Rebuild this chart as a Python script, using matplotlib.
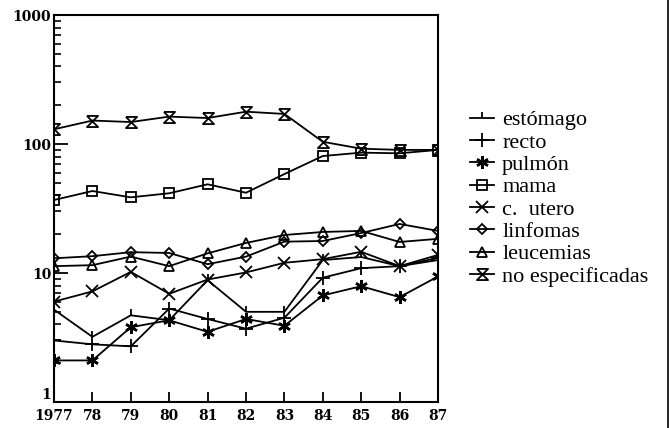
import matplotlib
matplotlib.use("Agg")
import matplotlib.pyplot as plt
import matplotlib.transforms as mtransforms
from matplotlib.path import Path
from matplotlib.lines import Line2D

years = [1977, 1978, 1979, 1980, 1981, 1982, 1983, 1984, 1985, 1986, 1987]
year_labels = ["1977", "78", "79", "80", "81", "82", "83", "84", "85", "86", "87"]

estomago = [5.2, 3.2, 4.7, 4.3, 8.8, 5.0, 5.0, 12.6, 13.3, 11.3, 12.6]
recto = [3.0, 2.8, 2.7, 5.3, 4.4, 3.7, 4.5, 9.2, 10.9, 11.3, 13.1]
pulmon = [2.1, 2.1, 3.8, 4.3, 3.5, 4.4, 3.9, 6.7, 7.9, 6.5, 9.4]
mama = [36.8, 43.2, 38.6, 41.5, 48.7, 41.9, 58.5, 80.7, 85.7, 84.7, 90]
c_utero = [6.0, 7.2, 10.2, 6.9, 8.9, 10.1, 12.0, 12.8, 14.6, 11.3, 13.8]
linfomas = [13.0, 13.5, 14.5, 14.3, 11.7, 13.4, 17.5, 17.7, 20.4, 24.0, 21.2]
leucemias = [11.3, 11.5, 13.4, 11.3, 14.2, 17.1, 19.7, 20.8, 21.2, 17.4, 18.4]
no_especificadas = [130, 152, 148, 163, 159, 178, 171, 104, 92, 90, 90]

names = ["estómago", "recto", "pulmón", "mama", "c.  utero",
         "linfomas", "leucemias", "no especificadas"]

# hourglass marker for "no especificadas"
hourglass = Path([(-1, 1), (1, 1), (-1, -1), (1, -1), (-1, 1)],
                 [Path.MOVETO, Path.LINETO, Path.LINETO, Path.LINETO, Path.LINETO])

styles = [
    dict(marker=2, ms=4),
    dict(marker="+", ms=10),
    dict(marker=(6, 2, 0), ms=9, mew=1.8),
    dict(marker="s", ms=6.5, mfc="none"),
    dict(marker="x", ms=8),
    dict(marker="D", ms=5, mfc="none"),
    dict(marker="^", ms=6.5, mfc="none"),
    dict(marker=hourglass, ms=8, mfc="none"),
]

fig = plt.figure(figsize=(6.7, 4.28), dpi=100)
ax = fig.add_axes([54 / 670, 1 - 402 / 428, 384 / 670, 387 / 428])

series = [estomago, recto, pulmon, mama, c_utero, linfomas, leucemias, no_especificadas]
for vals, name, st in zip(series, names, styles):
    kw = dict(color="black", lw=1.3, mec="black", mew=1.3)
    kw.update(st)
    ax.plot(years, vals, label=name, **kw)

ax.set_yscale("log")
ax.set_ylim(1, 1000)
ax.set_xlim(1977, 1987)
ax.set_xticks(years)
ax.set_xticklabels(year_labels)
ax.set_yticks([1, 10, 100, 1000])
ax.set_yticklabels(["1", "10", "100", "1000"])

for s in ax.spines.values():
    s.set_linewidth(1.5)
ax.tick_params(axis="x", which="major", direction="in", length=7, width=1.3,
               labelsize=10, pad=5)
ax.tick_params(axis="y", which="major", direction="in", length=10, width=1.3,
               labelsize=10, pad=2)
ax.tick_params(axis="y", which="minor", direction="in", length=5, width=1.2)
ax.tick_params(axis="x", which="minor", bottom=False)
for lab in ax.get_xticklabels() + ax.get_yticklabels():
    lab.set_fontfamily("DejaVu Serif")
    lab.set_fontweight("bold")

# the "1" sits a little above the x labels
one = ax.get_yticklabels()[0]
one.set_transform(one.get_transform() +
                  mtransforms.ScaledTranslation(0, 6 / 72, fig.dpi_scale_trans))

leg = fig.legend(loc="upper left", bbox_to_anchor=(461 / 670, 1 - 101 / 428),
                 frameon=False, handlelength=1.1, handletextpad=0.35,
                 labelspacing=0.08, borderaxespad=0,
                 prop={"family": "Liberation Serif", "size": 16})

# right edge of the scanned page
fig.add_artist(Line2D([668 / 670, 668 / 670], [0, 1], color="black", lw=1.2,
                      transform=fig.transFigure))

fig.savefig("out.png", dpi=100)
